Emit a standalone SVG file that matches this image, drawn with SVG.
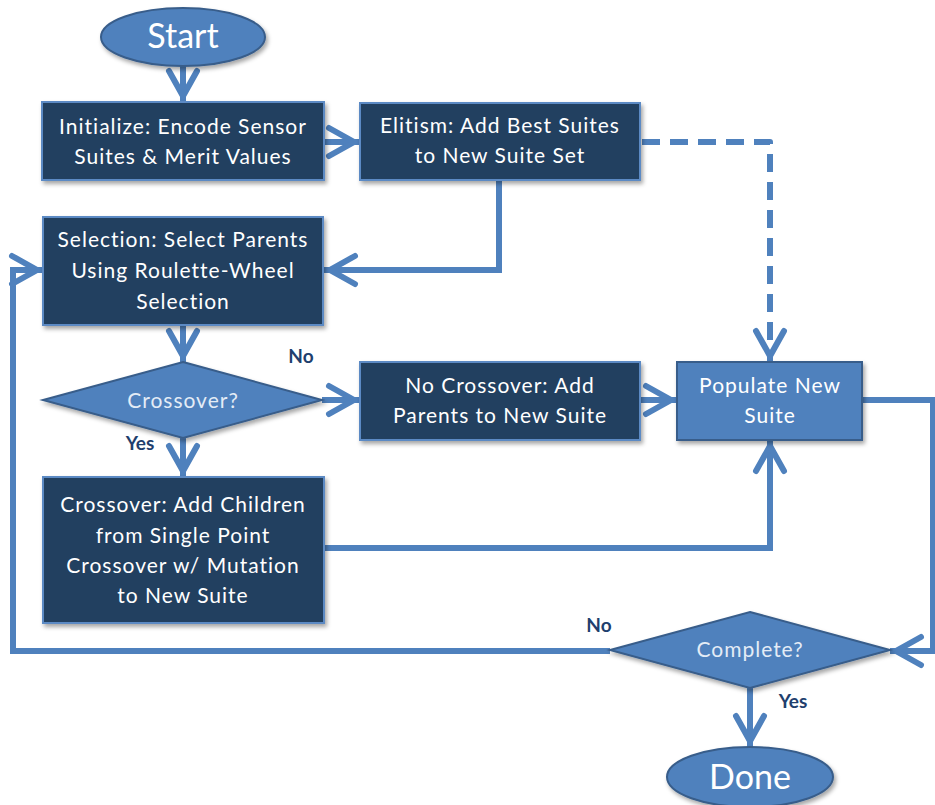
<svg xmlns="http://www.w3.org/2000/svg" width="935" height="805" viewBox="0 0 935 805">
  <defs>
    <filter id="shadow" x="-10%" y="-10%" width="125%" height="135%">
      <feDropShadow dx="2" dy="3" stdDeviation="2" flood-color="#000" flood-opacity="0.35"/>
    </filter>
    <marker id="chev" markerUnits="userSpaceOnUse" markerWidth="40" markerHeight="40" refX="0" refY="0" orient="auto" overflow="visible">
      <path d="M-31,-14 L-6,0 L-31,14" fill="none" stroke="#4f81bd" stroke-width="6" stroke-linecap="round"/>
    </marker>
    <style>
      .proc { fill: #243f60; stroke: #5b8ac4; stroke-width: 2; filter: url(#shadow); }
      .light { fill: #4f81bd; stroke: #385d8a; stroke-width: 2; filter: url(#shadow); }
      .t { font-family: Lato, "Open Sans", "Liberation Sans", sans-serif; font-size: 21px; letter-spacing: 1px; fill: #ffffff; text-anchor: middle; }
      .td { font-family: Lato, "Open Sans", "Liberation Sans", sans-serif; font-size: 21px; letter-spacing: 1px; fill: #e4ecf6; text-anchor: middle; }
      .big { font-family: Lato, "Open Sans", "Liberation Sans", sans-serif; font-size: 34px; fill: #ffffff; text-anchor: middle; }
      .lbl { font-family: Lato, "Open Sans", "Liberation Sans", sans-serif; font-size: 19px; font-weight: bold; fill: #1f3f6e; text-anchor: middle; }
      .c { fill: none; stroke: #4f81bd; stroke-width: 6; stroke-linejoin: miter; }
      .arr { marker-end: url(#chev); }
      .dash { stroke-dasharray: 18 10; stroke-linejoin: round; }
    </style>
  </defs>

  <!-- connectors -->
  <g id="connectors">
    <path class="c arr" d="M183,66 L183,102"/>
    <path class="c arr" d="M324,142 L360,142"/>
    <path class="c arr dash" d="M642,142 L770,142 L770,362"/>
    <path class="c arr" d="M499,180 L499,270 L324,270"/>
    <path class="c arr" d="M183,325 L183,362"/>
    <path class="c arr" d="M322,400 L360,400"/>
    <path class="c arr" d="M640,400 L677,400"/>
    <path class="c arr" d="M183,438 L183,477"/>
    <path class="c arr" d="M324,548 L770,548 L770,440"/>
    <path class="c arr" d="M862,400 L933,400 L933,651 L890,651"/>
    <path class="c arr" d="M610,651 L13,651 L13,270 L43,270"/>
    <path class="c arr" d="M750,688 L750,747"/>
  </g>

  <g id="start">
    <ellipse class="light" cx="183" cy="37" rx="82" ry="29"/>
    <text class="big" x="183" y="48">Start</text>
  </g>

  <g id="initialize">
    <rect class="proc" x="42" y="102" width="282" height="78"/>
    <text class="t" x="183" y="134">Initialize: Encode Sensor</text>
    <text class="t" x="183" y="164">Suites &amp; Merit Values</text>
  </g>

  <g id="elitism">
    <rect class="proc" x="360" y="103" width="280" height="77"/>
    <text class="t" x="500" y="133">Elitism: Add Best Suites</text>
    <text class="t" x="500" y="163">to New Suite Set</text>
  </g>

  <g id="selection">
    <rect class="proc" x="43" y="217" width="280" height="108"/>
    <text class="t" x="183" y="247">Selection: Select Parents</text>
    <text class="t" x="183" y="278">Using Roulette-Wheel</text>
    <text class="t" x="183" y="309">Selection</text>
  </g>

  <g id="crossover-decision">
    <polygon class="light" points="183,362 322,400 183,438 43,400"/>
    <text class="td" x="183" y="408">Crossover?</text>
    <text class="lbl" x="301" y="363">No</text>
    <text class="lbl" x="140" y="450">Yes</text>
  </g>

  <g id="no-crossover">
    <rect class="proc" x="360" y="362" width="280" height="78"/>
    <text class="t" x="500" y="393">No Crossover:  Add</text>
    <text class="t" x="500" y="423">Parents to New Suite</text>
  </g>

  <g id="populate">
    <rect class="light" x="677" y="362" width="185" height="78"/>
    <text class="t" x="770" y="393">Populate New</text>
    <text class="t" x="770" y="423">Suite</text>
  </g>

  <g id="crossover">
    <rect class="proc" x="43" y="477" width="281" height="146"/>
    <text class="t" x="183" y="512">Crossover: Add Children</text>
    <text class="t" x="183" y="543">from Single Point</text>
    <text class="t" x="183" y="573">Crossover w/ Mutation</text>
    <text class="t" x="183" y="603">to New Suite</text>
  </g>

  <g id="complete">
    <polygon class="light" points="750,612 890,650 750,688 610,650"/>
    <text class="td" x="750" y="657">Complete?</text>
    <text class="lbl" x="599" y="632">No</text>
    <text class="lbl" x="793" y="708">Yes</text>
  </g>

  <g id="done">
    <ellipse class="light" cx="750" cy="777" rx="83" ry="30"/>
    <text class="big" x="750" y="789">Done</text>
  </g>
</svg>
